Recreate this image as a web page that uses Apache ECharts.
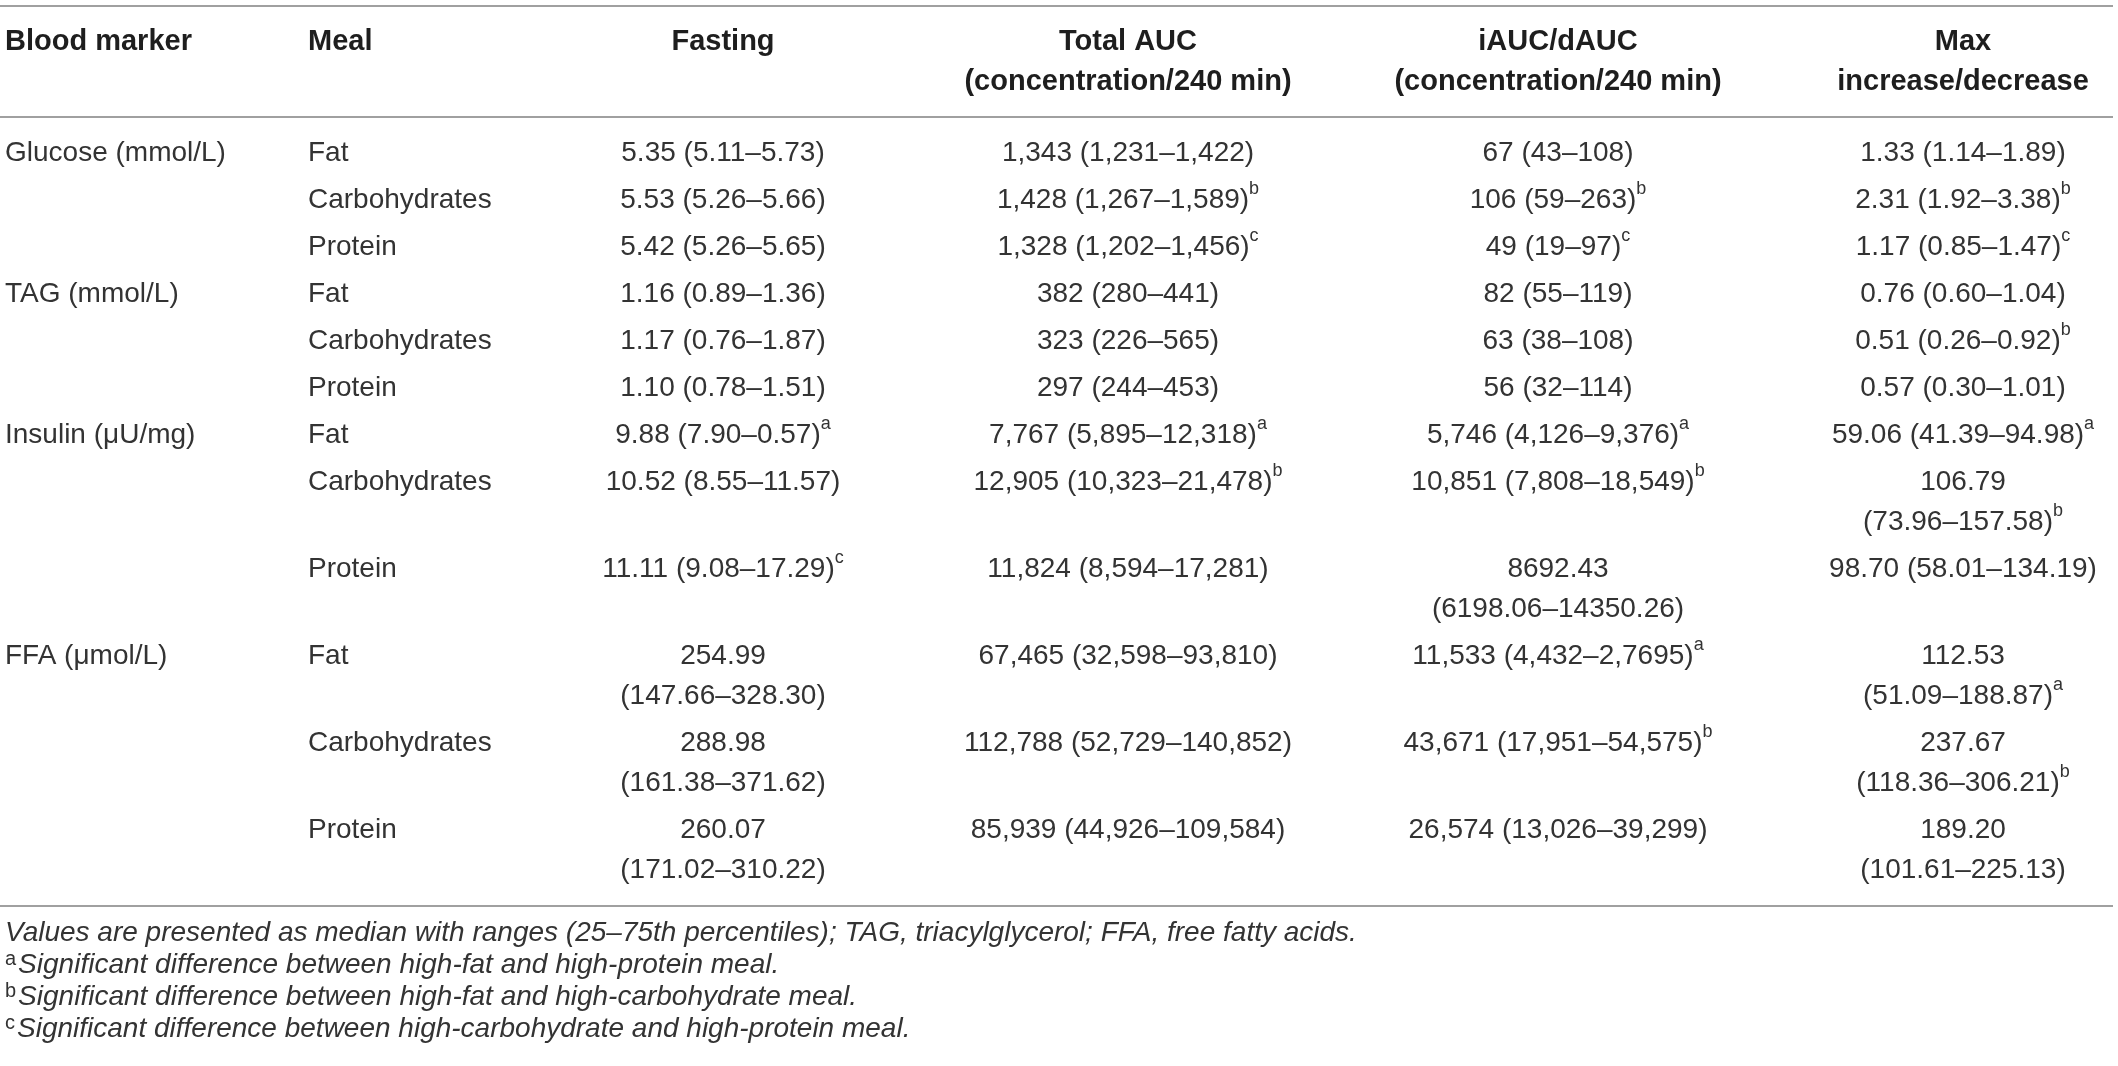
<!DOCTYPE html>
<html>
<head>
<meta charset="utf-8">
<script src="https://cdn.jsdelivr.net/npm/echarts@6/dist/echarts.min.js"></script>
<style>
html,body{margin:0;padding:0;background:#fff;}
#chart{width:2118px;height:1066px;}
</style>
</head>
<body>
<div id="chart"></div>
<script>
// ---------------- DATA ----------------
const headers = ['Blood marker', 'Meal', 'Fasting', 'Total AUC\n(concentration/240 min)', 'iAUC/dAUC\n(concentration/240 min)', 'Max\nincrease/decrease'];
const markers = ['Glucose (mmol/L)', 'TAG (mmol/L)', 'Insulin (μU/mg)', 'FFA (μmol/L)'];
const meals = ['Fat', 'Carbohydrates', 'Protein'];
const fasting = [
  '5.35 (5.11–5.73)', '5.53 (5.26–5.66)', '5.42 (5.26–5.65)',
  '1.16 (0.89–1.36)', '1.17 (0.76–1.87)', '1.10 (0.78–1.51)',
  '9.88 (7.90–0.57)^a', '10.52 (8.55–11.57)', '11.11 (9.08–17.29)^c',
  '254.99\n(147.66–328.30)', '288.98\n(161.38–371.62)', '260.07\n(171.02–310.22)'
];
const totalAUC = [
  '1,343 (1,231–1,422)', '1,428 (1,267–1,589)^b', '1,328 (1,202–1,456)^c',
  '382 (280–441)', '323 (226–565)', '297 (244–453)',
  '7,767 (5,895–12,318)^a', '12,905 (10,323–21,478)^b', '11,824 (8,594–17,281)',
  '67,465 (32,598–93,810)', '112,788 (52,729–140,852)', '85,939 (44,926–109,584)'
];
const iAUC = [
  '67 (43–108)', '106 (59–263)^b', '49 (19–97)^c',
  '82 (55–119)', '63 (38–108)', '56 (32–114)',
  '5,746 (4,126–9,376)^a', '10,851 (7,808–18,549)^b', '8692.43\n(6198.06–14350.26)',
  '11,533 (4,432–2,7695)^a', '43,671 (17,951–54,575)^b', '26,574 (13,026–39,299)'
];
const maxChange = [
  '1.33 (1.14–1.89)', '2.31 (1.92–3.38)^b', '1.17 (0.85–1.47)^c',
  '0.76 (0.60–1.04)', '0.51 (0.26–0.92)^b', '0.57 (0.30–1.01)',
  '59.06 (41.39–94.98)^a', '106.79\n(73.96–157.58)^b', '98.70 (58.01–134.19)',
  '112.53\n(51.09–188.87)^a', '237.67\n(118.36–306.21)^b', '189.20\n(101.61–225.13)'
];
const footnotes = [
  'Values are presented as median with ranges (25–75th percentiles); TAG, triacylglycerol; FFA, free fatty acids.',
  '^aSignificant difference between high-fat and high-protein meal.',
  '^bSignificant difference between high-fat and high-carbohydrate meal.',
  '^cSignificant difference between high-carbohydrate and high-protein meal.'
];

// ---------------- LAYOUT ----------------
const W = 2118, H = 1066;
const colX = [5, 308, 723, 1128, 1558, 1963];
const colAlign = ['left', 'left', 'center', 'center', 'center', 'center'];
const headerY = 42, firstRowY = 153, rowStep = 47, lineStep = 40;
const ruleY = [6, 117, 906];
const ruleX0 = 0, ruleX1 = 2113;
const footX = 5, footY0 = 933, footStep = 32;
const FONT = '"Liberation Sans", Arial, Helvetica, sans-serif';

// convert "^x" markers into rich tokens
function toRich(s) {
  return s.split('\n').map(line => line.replace(/\^([a-z])/g, '{s|$1}')).join('\n');
}

// build rows
const columns = [null, null, fasting, totalAUC, iAUC, maxChange];
const cells = [];
let y = firstRowY;
for (let r = 0; r < 12; r++) {
  const rowTexts = [];
  rowTexts[0] = (r % 3 === 0) ? markers[r / 3] : '';
  rowTexts[1] = meals[r % 3];
  for (let c = 2; c < 6; c++) rowTexts[c] = columns[c][r];
  let lines = 1;
  rowTexts.forEach(t => { lines = Math.max(lines, t.split('\n').length); });
  rowTexts.forEach((t, c) => { if (t) cells.push({ value: [colX[c], y], text: t, col: c, kind: 'body' }); });
  y += rowStep + lineStep * (lines - 1);
}
headers.forEach((t, c) => cells.push({ value: [colX[c], headerY], text: t, col: c, kind: 'head' }));
footnotes.forEach((t, i) => cells.push({ value: [footX, footY0 + footStep * i], text: t, col: 0, kind: 'foot' }));

const chart = echarts.init(document.getElementById('chart'), null, { renderer: 'canvas', width: W, height: H });

const option = {
  backgroundColor: '#ffffff',
  animation: false,
  grid: { left: 0, right: 0, top: 0, bottom: 0 },
  xAxis: { type: 'value', min: 0, max: W, show: false },
  yAxis: { type: 'value', min: 0, max: H, inverse: true, show: false },
  series: [
    {
      type: 'custom',
      coordinateSystem: 'cartesian2d',
      clip: false,
      silent: true,
      data: ruleY.map(v => ({ value: [ruleX0, v, ruleX1] })),
      renderItem: function (params, api) {
        const p0 = api.coord([api.value(0), api.value(1)]);
        const p1 = api.coord([api.value(2), api.value(1)]);
        return {
          type: 'line',
          shape: { x1: p0[0], y1: p0[1], x2: p1[0], y2: p1[1] },
          style: { stroke: '#a0a0a0', lineWidth: 2 }
        };
      }
    },
    {
      type: 'custom',
      coordinateSystem: 'cartesian2d',
      clip: false,
      silent: true,
      data: cells,
      renderItem: function (params, api) {
        const item = cells[params.dataIndex];
        const p = api.coord([api.value(0), api.value(1)]);
        let style;
        if (item.kind === 'head') {
          style = {
            text: item.text, fontSize: 29, fontWeight: 'bold', fontFamily: FONT,
            fill: '#1e1e1e', lineHeight: lineStep
          };
        } else if (item.kind === 'foot') {
          const t = item.text.startsWith('^') ? '{s|' + item.text[1] + '}{i|' + item.text.slice(2) + '}' : '{i|' + item.text + '}';
          style = {
            text: t, fontSize: 28, fontFamily: FONT, fill: '#333', lineHeight: footStep,
            rich: {
              i: { fontSize: 28, fontStyle: 'italic', fontFamily: FONT, fill: '#333', lineHeight: footStep },
              s: { fontSize: 20, fontFamily: FONT, fill: '#333', lineHeight: 24, verticalAlign: 'top', padding: [0, 2, 0, 0] }
            }
          };
        } else {
          style = {
            text: toRich(item.text), fontSize: 28, fontFamily: FONT, fill: '#333', lineHeight: lineStep,
            rich: {
              s: { fontSize: 18, fontFamily: FONT, fill: '#333', lineHeight: 30, verticalAlign: 'top' }
            }
          };
        }
        const lh = item.kind === 'foot' ? footStep : lineStep;
        style.align = colAlign[item.col];
        style.verticalAlign = 'top';
        return {
          type: 'text',
          x: p[0],
          y: p[1] - lh / 2,
          style: style
        };
      }
    }
  ]
};
chart.setOption(option);
</script>
</body>
</html>
